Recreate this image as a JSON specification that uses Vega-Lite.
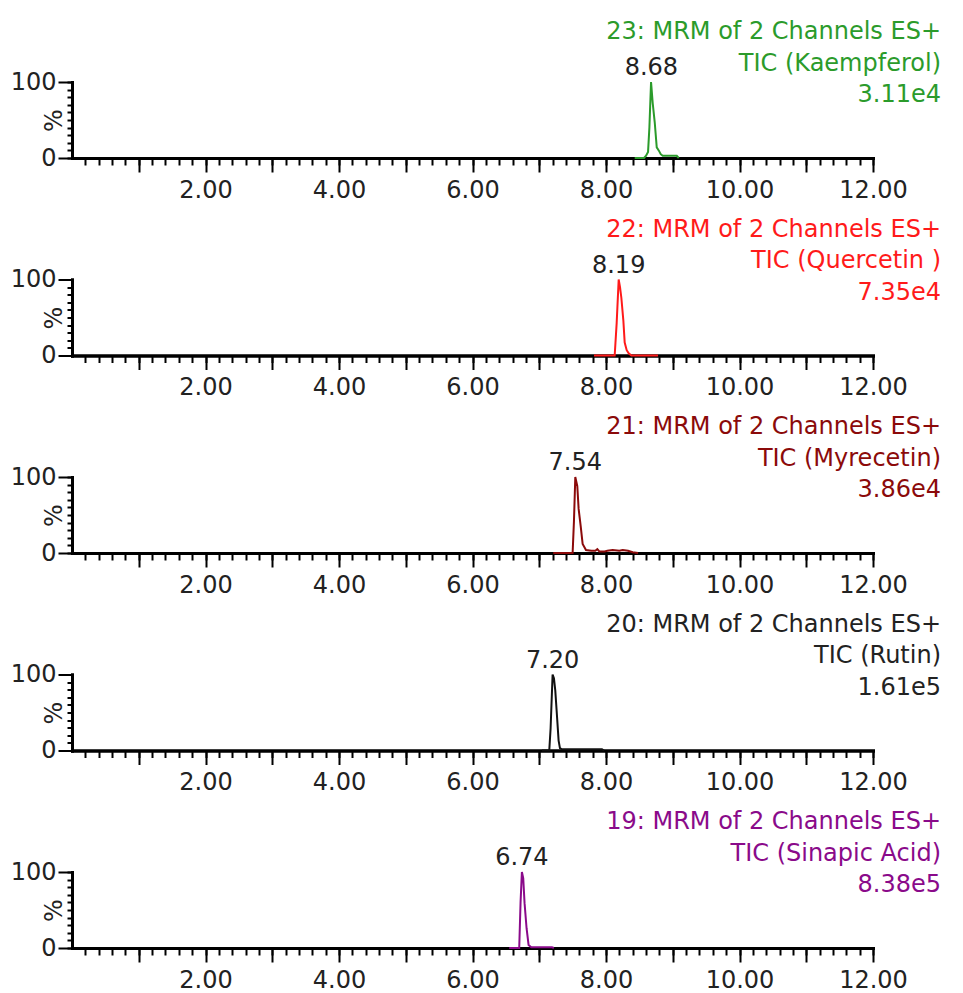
{
  "$schema": "https://vega.github.io/schema/vega-lite/v6.json",
  "padding": {"left": 10, "top": 20, "right": 5, "bottom": 5},
  "background": "white",
  "datasets": {
    "kaempferol": [
      {"t": 8.43, "i": 0}, {"t": 8.57, "i": 0}, {"t": 8.60, "i": 3}, {"t": 8.63, "i": 8},
      {"t": 8.65, "i": 40}, {"t": 8.675, "i": 100}, {"t": 8.70, "i": 72}, {"t": 8.73, "i": 47},
      {"t": 8.76, "i": 14}, {"t": 8.79, "i": 10}, {"t": 8.82, "i": 5}, {"t": 8.85, "i": 3},
      {"t": 9.06, "i": 3}, {"t": 9.09, "i": 0}
    ],
    "quercetin": [
      {"t": 7.82, "i": 0}, {"t": 8.13, "i": 0}, {"t": 8.16, "i": 43}, {"t": 8.19, "i": 100},
      {"t": 8.21, "i": 90}, {"t": 8.23, "i": 76}, {"t": 8.26, "i": 46}, {"t": 8.28, "i": 17},
      {"t": 8.31, "i": 7}, {"t": 8.34, "i": 3}, {"t": 8.38, "i": 0}, {"t": 8.78, "i": 0}
    ],
    "myrecetin": [
      {"t": 7.21, "i": 0}, {"t": 7.50, "i": 0}, {"t": 7.52, "i": 42}, {"t": 7.54, "i": 100},
      {"t": 7.57, "i": 88}, {"t": 7.59, "i": 58}, {"t": 7.62, "i": 36}, {"t": 7.65, "i": 12},
      {"t": 7.70, "i": 4}, {"t": 7.78, "i": 3}, {"t": 7.84, "i": 3}, {"t": 7.87, "i": 5},
      {"t": 7.90, "i": 2}, {"t": 7.98, "i": 2}, {"t": 8.02, "i": 3}, {"t": 8.10, "i": 4},
      {"t": 8.20, "i": 3}, {"t": 8.25, "i": 4}, {"t": 8.33, "i": 3}, {"t": 8.40, "i": 1},
      {"t": 8.48, "i": 0}
    ],
    "rutin": [
      {"t": 7.04, "i": 0}, {"t": 7.15, "i": 0}, {"t": 7.17, "i": 29}, {"t": 7.20, "i": 100},
      {"t": 7.22, "i": 95}, {"t": 7.24, "i": 79}, {"t": 7.26, "i": 53}, {"t": 7.29, "i": 13},
      {"t": 7.31, "i": 3}, {"t": 7.34, "i": 1.5}, {"t": 7.94, "i": 1.5}, {"t": 7.97, "i": 0}
    ],
    "sinapic": [
      {"t": 6.55, "i": 0}, {"t": 6.70, "i": 0}, {"t": 6.72, "i": 60}, {"t": 6.74, "i": 100},
      {"t": 6.76, "i": 92}, {"t": 6.78, "i": 59}, {"t": 6.81, "i": 26}, {"t": 6.84, "i": 4},
      {"t": 6.88, "i": 1}, {"t": 7.19, "i": 1}, {"t": 7.22, "i": 0}
    ]
  },
  "vconcat": [
    {
      "width": 801, "height": 76,
      "title": {"text": ["23: MRM of 2 Channels ES+", "TIC (Kaempferol)", "3.11e4"], "color": "#2b9b2b"},
      "resolve": {"axis": {"x": "independent", "y": "independent"}},
      "layer": [
        {
          "data": {"name": "kaempferol"},
          "mark": {"type": "line", "color": "#2b9b2b", "strokeWidth": 2},
          "encoding": {
            "x": {"field": "t", "type": "quantitative", "scale": {"domain": [0, 12], "nice": false},
              "axis": {"orient": "bottom", "title": null, "labels": false, "tickSize": 7, "values": [0.2,0.4,0.6,0.8,1.0,1.2,1.4,1.6,1.8,2.0,2.2,2.4,2.6,2.8,3.0,3.2,3.4,3.6,3.8,4.0,4.2,4.4,4.6,4.8,5.0,5.2,5.4,5.6,5.8,6.0,6.2,6.4,6.6,6.8,7.0,7.2,7.4,7.6,7.8,8.0,8.2,8.4,8.6,8.8,9.0,9.2,9.4,9.6,9.8,10.0,10.2,10.4,10.6,10.8,11.0,11.2,11.4,11.6,11.8,12.0]}},
            "y": {"field": "i", "type": "quantitative", "scale": {"domain": [0, 100], "nice": false},
              "axis": {"orient": "left", "title": null, "labels": false, "tickSize": 5, "values": [0,10,20,30,40,50,60,70,80,90,100]}}
          }
        },
        {
          "data": {"values": [{"rt": 8.68, "label": "8.68"}]},
          "mark": {"type": "text", "font": "DejaVu Sans", "fontSize": 24, "color": "#222222", "baseline": "alphabetic", "dy": -7},
          "encoding": {
            "x": {"field": "rt", "type": "quantitative",
              "axis": {"orient": "bottom", "title": null, "tickSize": 14, "values": [1,2,3,4,5,6,7,8,9,10,11,12], "labelExpr": "datum.value % 2 == 0 ? format(datum.value, '.2f') : ''"}},
            "y": {"datum": 100, "type": "quantitative",
              "axis": {"orient": "left", "title": "%", "tickSize": 14, "values": [0, 100]}},
            "text": {"field": "label"}
          }
        }
      ]
    },
    {
      "width": 801, "height": 76,
      "title": {"text": ["22: MRM of 2 Channels ES+", "TIC (Quercetin )", "7.35e4"], "color": "#ff1a1a"},
      "resolve": {"axis": {"x": "independent", "y": "independent"}},
      "layer": [
        {
          "data": {"name": "quercetin"},
          "mark": {"type": "line", "color": "#ff1a1a", "strokeWidth": 2},
          "encoding": {
            "x": {"field": "t", "type": "quantitative", "scale": {"domain": [0, 12], "nice": false},
              "axis": {"orient": "bottom", "title": null, "labels": false, "tickSize": 7, "values": [0.2,0.4,0.6,0.8,1.0,1.2,1.4,1.6,1.8,2.0,2.2,2.4,2.6,2.8,3.0,3.2,3.4,3.6,3.8,4.0,4.2,4.4,4.6,4.8,5.0,5.2,5.4,5.6,5.8,6.0,6.2,6.4,6.6,6.8,7.0,7.2,7.4,7.6,7.8,8.0,8.2,8.4,8.6,8.8,9.0,9.2,9.4,9.6,9.8,10.0,10.2,10.4,10.6,10.8,11.0,11.2,11.4,11.6,11.8,12.0]}},
            "y": {"field": "i", "type": "quantitative", "scale": {"domain": [0, 100], "nice": false},
              "axis": {"orient": "left", "title": null, "labels": false, "tickSize": 5, "values": [0,10,20,30,40,50,60,70,80,90,100]}}
          }
        },
        {
          "data": {"values": [{"rt": 8.19, "label": "8.19"}]},
          "mark": {"type": "text", "font": "DejaVu Sans", "fontSize": 24, "color": "#222222", "baseline": "alphabetic", "dy": -7},
          "encoding": {
            "x": {"field": "rt", "type": "quantitative",
              "axis": {"orient": "bottom", "title": null, "tickSize": 14, "values": [1,2,3,4,5,6,7,8,9,10,11,12], "labelExpr": "datum.value % 2 == 0 ? format(datum.value, '.2f') : ''"}},
            "y": {"datum": 100, "type": "quantitative",
              "axis": {"orient": "left", "title": "%", "tickSize": 14, "values": [0, 100]}},
            "text": {"field": "label"}
          }
        }
      ]
    },
    {
      "width": 801, "height": 76,
      "title": {"text": ["21: MRM of 2 Channels ES+", "TIC (Myrecetin)", "3.86e4"], "color": "#8b0a0a"},
      "resolve": {"axis": {"x": "independent", "y": "independent"}},
      "layer": [
        {
          "data": {"name": "myrecetin"},
          "mark": {"type": "line", "color": "#8b0a0a", "strokeWidth": 2},
          "encoding": {
            "x": {"field": "t", "type": "quantitative", "scale": {"domain": [0, 12], "nice": false},
              "axis": {"orient": "bottom", "title": null, "labels": false, "tickSize": 7, "values": [0.2,0.4,0.6,0.8,1.0,1.2,1.4,1.6,1.8,2.0,2.2,2.4,2.6,2.8,3.0,3.2,3.4,3.6,3.8,4.0,4.2,4.4,4.6,4.8,5.0,5.2,5.4,5.6,5.8,6.0,6.2,6.4,6.6,6.8,7.0,7.2,7.4,7.6,7.8,8.0,8.2,8.4,8.6,8.8,9.0,9.2,9.4,9.6,9.8,10.0,10.2,10.4,10.6,10.8,11.0,11.2,11.4,11.6,11.8,12.0]}},
            "y": {"field": "i", "type": "quantitative", "scale": {"domain": [0, 100], "nice": false},
              "axis": {"orient": "left", "title": null, "labels": false, "tickSize": 5, "values": [0,10,20,30,40,50,60,70,80,90,100]}}
          }
        },
        {
          "data": {"values": [{"rt": 7.54, "label": "7.54"}]},
          "mark": {"type": "text", "font": "DejaVu Sans", "fontSize": 24, "color": "#222222", "baseline": "alphabetic", "dy": -7},
          "encoding": {
            "x": {"field": "rt", "type": "quantitative",
              "axis": {"orient": "bottom", "title": null, "tickSize": 14, "values": [1,2,3,4,5,6,7,8,9,10,11,12], "labelExpr": "datum.value % 2 == 0 ? format(datum.value, '.2f') : ''"}},
            "y": {"datum": 100, "type": "quantitative",
              "axis": {"orient": "left", "title": "%", "tickSize": 14, "values": [0, 100]}},
            "text": {"field": "label"}
          }
        }
      ]
    },
    {
      "width": 801, "height": 76,
      "title": {"text": ["20: MRM of 2 Channels ES+", "TIC (Rutin)", "1.61e5"], "color": "#222222"},
      "resolve": {"axis": {"x": "independent", "y": "independent"}},
      "layer": [
        {
          "data": {"name": "rutin"},
          "mark": {"type": "line", "color": "#111111", "strokeWidth": 2},
          "encoding": {
            "x": {"field": "t", "type": "quantitative", "scale": {"domain": [0, 12], "nice": false},
              "axis": {"orient": "bottom", "title": null, "labels": false, "tickSize": 7, "values": [0.2,0.4,0.6,0.8,1.0,1.2,1.4,1.6,1.8,2.0,2.2,2.4,2.6,2.8,3.0,3.2,3.4,3.6,3.8,4.0,4.2,4.4,4.6,4.8,5.0,5.2,5.4,5.6,5.8,6.0,6.2,6.4,6.6,6.8,7.0,7.2,7.4,7.6,7.8,8.0,8.2,8.4,8.6,8.8,9.0,9.2,9.4,9.6,9.8,10.0,10.2,10.4,10.6,10.8,11.0,11.2,11.4,11.6,11.8,12.0]}},
            "y": {"field": "i", "type": "quantitative", "scale": {"domain": [0, 100], "nice": false},
              "axis": {"orient": "left", "title": null, "labels": false, "tickSize": 5, "values": [0,10,20,30,40,50,60,70,80,90,100]}}
          }
        },
        {
          "data": {"values": [{"rt": 7.20, "label": "7.20"}]},
          "mark": {"type": "text", "font": "DejaVu Sans", "fontSize": 24, "color": "#222222", "baseline": "alphabetic", "dy": -7},
          "encoding": {
            "x": {"field": "rt", "type": "quantitative",
              "axis": {"orient": "bottom", "title": null, "tickSize": 14, "values": [1,2,3,4,5,6,7,8,9,10,11,12], "labelExpr": "datum.value % 2 == 0 ? format(datum.value, '.2f') : ''"}},
            "y": {"datum": 100, "type": "quantitative",
              "axis": {"orient": "left", "title": "%", "tickSize": 14, "values": [0, 100]}},
            "text": {"field": "label"}
          }
        }
      ]
    },
    {
      "width": 801, "height": 76,
      "title": {"text": ["19: MRM of 2 Channels ES+", "TIC (Sinapic Acid)", "8.38e5"], "color": "#8a0a8a"},
      "resolve": {"axis": {"x": "independent", "y": "independent"}},
      "layer": [
        {
          "data": {"name": "sinapic"},
          "mark": {"type": "line", "color": "#8a0a8a", "strokeWidth": 2},
          "encoding": {
            "x": {"field": "t", "type": "quantitative", "scale": {"domain": [0, 12], "nice": false},
              "axis": {"orient": "bottom", "title": null, "labels": false, "tickSize": 7, "values": [0.2,0.4,0.6,0.8,1.0,1.2,1.4,1.6,1.8,2.0,2.2,2.4,2.6,2.8,3.0,3.2,3.4,3.6,3.8,4.0,4.2,4.4,4.6,4.8,5.0,5.2,5.4,5.6,5.8,6.0,6.2,6.4,6.6,6.8,7.0,7.2,7.4,7.6,7.8,8.0,8.2,8.4,8.6,8.8,9.0,9.2,9.4,9.6,9.8,10.0,10.2,10.4,10.6,10.8,11.0,11.2,11.4,11.6,11.8,12.0]}},
            "y": {"field": "i", "type": "quantitative", "scale": {"domain": [0, 100], "nice": false},
              "axis": {"orient": "left", "title": null, "labels": false, "tickSize": 5, "values": [0,10,20,30,40,50,60,70,80,90,100]}}
          }
        },
        {
          "data": {"values": [{"rt": 6.74, "label": "6.74"}]},
          "mark": {"type": "text", "font": "DejaVu Sans", "fontSize": 24, "color": "#222222", "baseline": "alphabetic", "dy": -7},
          "encoding": {
            "x": {"field": "rt", "type": "quantitative",
              "axis": {"orient": "bottom", "title": null, "tickSize": 14, "values": [1,2,3,4,5,6,7,8,9,10,11,12], "labelExpr": "datum.value % 2 == 0 ? format(datum.value, '.2f') : ''"}},
            "y": {"datum": 100, "type": "quantitative",
              "axis": {"orient": "left", "title": "%", "tickSize": 14, "values": [0, 100]}},
            "text": {"field": "label"}
          }
        }
      ]
    }
  ],
  "bounds": "flush",
  "spacing": 121.5,
  "config": {
    "view": {"stroke": null},
    "axis": {
      "grid": false,
      "domainColor": "#000000",
      "domainWidth": 3,
      "domainCap": "square",
      "tickColor": "#000000",
      "tickWidth": 2,
      "labelFont": "DejaVu Sans",
      "labelFontSize": 24,
      "labelColor": "#222222",
      "labelOverlap": false,
      "labelFlush": false,
      "titleFont": "DejaVu Sans",
      "titleFontSize": 24,
      "titleFontWeight": "normal",
      "titleColor": "#222222"
    },
    "axisX": {"labelPadding": 6},
    "axisY": {"labelPadding": 2, "titleAngle": -90, "titleX": -18, "titleY": 38, "titleAlign": "center", "titleBaseline": "middle"},
    "title": {
      "anchor": "end",
      "frame": "group",
      "font": "DejaVu Sans",
      "fontSize": 24,
      "fontWeight": "normal",
      "lineHeight": 31.5,
      "baseline": "bottom",
      "offset": -51,
      "dx": 68
    }
  }
}
